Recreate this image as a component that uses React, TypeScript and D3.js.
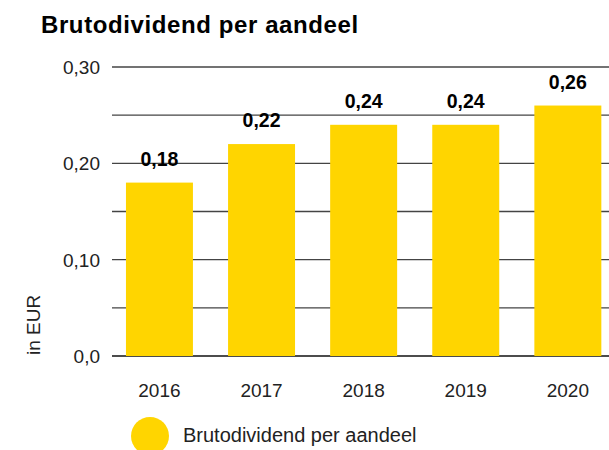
import React from "react";
import * as d3 from "d3";

const years = ["2016", "2017", "2018", "2019", "2020"];
const values = [0.18, 0.22, 0.24, 0.24, 0.26];
const valueLabels = ["0,18", "0,22", "0,24", "0,24", "0,26"];
const gridTicks = [0, 0.05, 0.1, 0.15, 0.2, 0.25, 0.3];
const axisTicks = [0, 0.1, 0.2, 0.3];
const axisTickLabels = ["0,0", "0,10", "0,20", "0,30"];
const title = "Brutodividend per aandeel";
const yTitle = "in EUR";
const legendLabel = "Brutodividend per aandeel";

const W = 609;
const H = 450;
const YELLOW = "#FFD500";
const FONT = "'Liberation Sans', Arial, Helvetica, sans-serif";

export default function App() {
  const y = d3.scaleLinear().domain([0, 0.3]).range([356, 67]);
  const x = d3
    .scaleBand<string>()
    .domain(years)
    .range([108.4, 618.9])
    .paddingInner(0.344)
    .paddingOuter(0.172);

  return (
    <svg
      width={W}
      height={H}
      style={{ position: "absolute", left: 0, top: 0, background: "#fff" }}
      fontFamily={FONT}
    >
      <text x={41} y={33} fontSize={24} fontWeight={700} letterSpacing={0.6} fill="#000">
        {title}
      </text>

      {gridTicks.map((t) => (
        <line
          key={t}
          x1={112}
          x2={W}
          y1={y(t)}
          y2={y(t)}
          stroke={t === 0 ? "#111" : "#444"}
          strokeWidth={1.3}
        />
      ))}

      {axisTicks.map((t, i) => (
        <text
          key={t}
          x={100}
          y={y(t) + 7}
          textAnchor="end"
          fontSize={19}
          fill="#222"
        >
          {axisTickLabels[i]}
        </text>
      ))}

      <text
        transform={`translate(39.5,355) rotate(-90)`}
        textAnchor="start"
        fontSize={19}
        fill="#222"
      >
        {yTitle}
      </text>

      {years.map((yr, i) => (
        <rect
          key={yr}
          x={x(yr)}
          y={y(values[i])}
          width={x.bandwidth()}
          height={y(0) - y(values[i])}
          fill={YELLOW}
        />
      ))}

      {years.map((yr, i) => (
        <text
          key={"v" + yr}
          x={(x(yr) as number) + x.bandwidth() / 2}
          y={y(values[i]) - 17}
          textAnchor="middle"
          fontSize={19.5}
          fontWeight={700}
          fill="#000"
        >
          {valueLabels[i]}
        </text>
      ))}

      {years.map((yr) => (
        <text
          key={"x" + yr}
          x={(x(yr) as number) + x.bandwidth() / 2}
          y={396.5}
          textAnchor="middle"
          fontSize={19}
          fill="#222"
        >
          {yr}
        </text>
      ))}

      <circle cx={150} cy={436} r={19} fill={YELLOW} />
      <text x={183} y={442} fontSize={20} fill="#222">
        {legendLabel}
      </text>
    </svg>
  );
}
